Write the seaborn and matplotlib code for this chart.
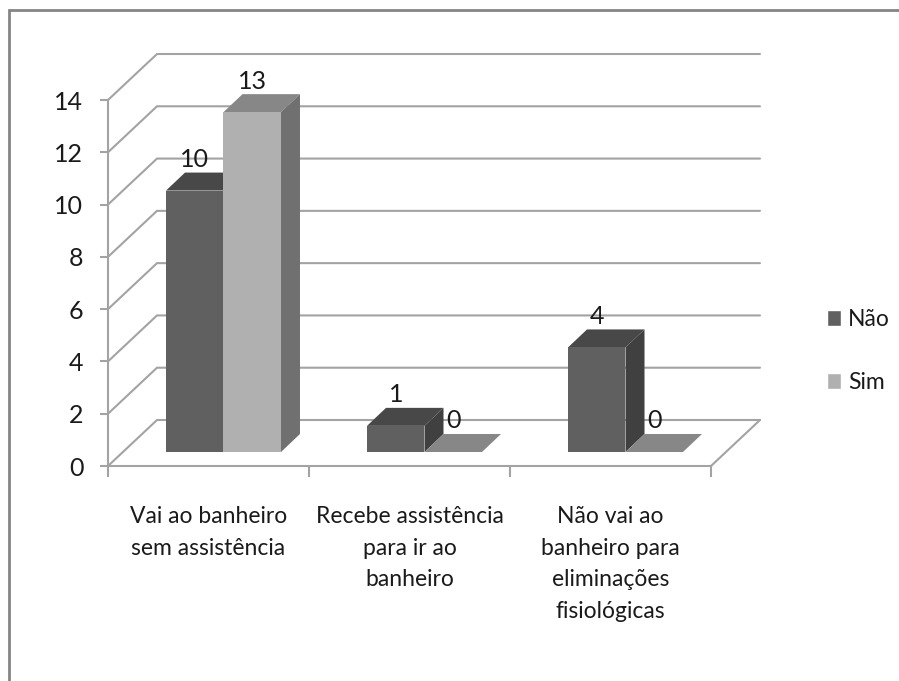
import matplotlib
matplotlib.use('Agg')
import matplotlib.pyplot as plt
import pandas as pd
import seaborn as sns
from matplotlib.lines import Line2D
from matplotlib.patches import Polygon
from matplotlib.transforms import Affine2D

categories = ['Vai ao banheiro\nsem assistência',
              'Recebe assistência\npara ir ao\nbanheiro',
              'Não vai ao\nbanheiro para\neliminações\nfisiológicas']
nao = [10, 1, 4]
sim = [13, 0, 0]
y_ticks = [0, 2, 4, 6, 8, 10, 12, 14]

W, H = 899, 681

sns.set_style('white')
plt.rcParams['font.family'] = ['Lato', 'DejaVu Sans']
txt_c = '#1a1a1a'
num_size = 18
cat_size = 16.5

df = pd.DataFrame({
    'cat': categories * 2,
    'valor': nao + sim,
    'grupo': ['Não'] * 3 + ['Sim'] * 3,
})

fig = plt.figure(figsize=(W / 100, H / 100), dpi=100, facecolor='white')
ax = fig.add_axes([108 / W, 1 - 466 / H, (711 - 108) / W, (466 - 100) / H])
ax.patch.set_visible(False)

sns.barplot(data=df, x='cat', y='valor', hue='grupo', hue_order=['Não', 'Sim'],
            palette=['#606060', '#b0b0b0'], saturation=1, width=0.572, gap=0,
            ax=ax, zorder=5)
ax.set_xlim(-0.5, 2.5)
ax.set_ylim(0, 14)
ax.set_xlabel('')
ax.set_ylabel('')

# axes look
grid_c = '#a3a3a3'
for s in ['top', 'right']:
    ax.spines[s].set_visible(False)
for s in ['left', 'bottom']:
    ax.spines[s].set_color(grid_c)
    ax.spines[s].set_linewidth(1.5)
ax.set_yticks(y_ticks)
ax.tick_params(axis='y', length=5.8, width=1.5, color=grid_c, pad=12, labelsize=num_size, left=True,
               labelcolor=txt_c)
ax.set_xticks([-0.5, 0.5, 1.5, 2.5])
ax.set_xticklabels([])
ax.set_xticks([0, 1, 2], labels=categories, minor=True)
ax.tick_params(axis='x', which='major', length=8, width=1.5, color=grid_c, bottom=True)
ax.tick_params(axis='x', which='minor', length=0, pad=29, labelsize=cat_size, labelcolor=txt_c)
for t in ax.get_xticklabels(minor=True):
    t.set_linespacing(1.62)
    t.set_ha('center')

# walls, pixels
back_dx, back_dy = 49, 46
for v in y_ticks:
    x0, y0 = ax.transData.transform((-0.5, v))
    x1, _ = ax.transData.transform((2.5, v))
    ax.add_line(Line2D([x0, x0 + back_dx, x1 + back_dx], [y0, y0 + back_dy, y0 + back_dy],
                       transform=None, color=grid_c, lw=1.5, clip_on=False, zorder=1,
                       solid_joinstyle='miter'))
x0, y0 = ax.transData.transform((2.5, 0))
ax.add_line(Line2D([x0, x0 + back_dx], [y0, y0 + back_dy], transform=None,
                   color=grid_c, lw=1.5, clip_on=False, zorder=1))

# 3d faces of the bars
bar_dx, bar_dy = 15, 14
depth_x, depth_y = 19, 18
shift = ax.transData + Affine2D().translate(bar_dx, bar_dy)
top_c = ['#484848', '#878787']
side_c = ['#404040', '#707070']
for i, cont in enumerate(ax.containers):
    for bar in cont:
        z = 5 + i
        bar.set_transform(shift)
        bar.set_zorder(z + 0.2)
        bar.set_linewidth(0)
        bar.set_clip_on(False)
        xa, ya = shift.transform((bar.get_x(), 0))
        xb, yb = shift.transform((bar.get_x() + bar.get_width(), bar.get_height()))
        ax.add_patch(Polygon([(xa, yb), (xb, yb), (xb + depth_x, yb + depth_y), (xa + depth_x, yb + depth_y)],
                             transform=None, fc=top_c[i], lw=0, clip_on=False, zorder=z))
        if bar.get_height() > 0:
            ax.add_patch(Polygon([(xb, ya), (xb + depth_x, ya + depth_y), (xb + depth_x, yb + depth_y), (xb, yb)],
                                 transform=None, fc=side_c[i], lw=0, clip_on=False, zorder=z))
        ax.text(bar.get_x() + bar.get_width() / 2, bar.get_height(), '%d' % bar.get_height(),
                transform=shift + Affine2D().translate(0, 31), ha='center', va='center',
                fontsize=num_size, color=txt_c, zorder=10, clip_on=False)

# legend
handles, labels = ax.get_legend_handles_labels()
ax.legend(handles, labels, loc='center left', bbox_to_anchor=(827 / W, 1 - 351 / H),
          bbox_transform=fig.transFigure, frameon=False, fontsize=cat_size, handlelength=0.62,
          handleheight=0.72, handletextpad=0.3, labelspacing=1.85, labelcolor=txt_c,
          borderpad=0, borderaxespad=0)

# outer frame, only top and left reach the picture
frame_c = '#858585'
fig.add_artist(Line2D([9 / W, 9 / W, 1], [0, 1 - 10 / H, 1 - 10 / H], color=frame_c, lw=2,
                      solid_joinstyle='miter'))

fig.savefig('out.png', dpi=100)
